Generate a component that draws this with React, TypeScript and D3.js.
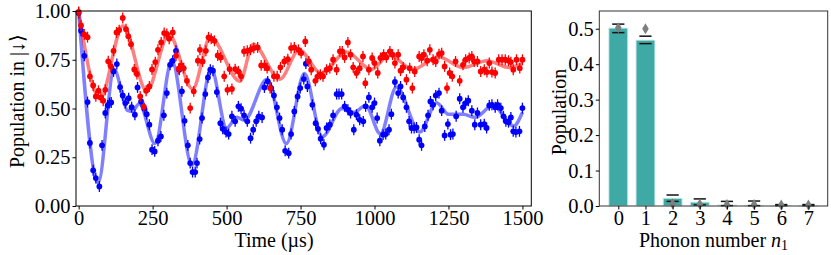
import React, { useRef, useEffect } from 'react';
import * as d3 from 'd3';

// measured populations, red = one initial state, blue = the other
const redTime = [0, 8, 19, 30, 38, 49, 58, 67, 75, 83, 90, 100, 109, 118, 128, 137, 149, 160, 168, 177, 188, 197, 208, 220, 228, 239, 248,
  259, 268, 279, 289, 298, 306, 318, 329, 338, 347, 355, 366, 377, 389, 403, 410, 419, 430, 439, 448, 459, 470, 480, 492, 503,
  510, 518, 529, 540, 549, 559, 570, 581, 592, 605, 617, 628, 637, 647, 660, 671, 682, 695, 707, 718, 729, 743, 752, 766,
  778, 786, 800, 808, 817, 826, 838, 849, 860, 872, 883, 891, 899, 910, 919, 928, 939, 950, 961, 969, 981, 992, 1000, 1011, 1020,
  1031, 1040, 1052, 1061, 1069, 1080, 1088, 1097, 1108, 1119, 1128, 1136, 1151, 1159, 1167, 1178, 1187, 1198, 1207, 1218, 1227, 1237, 1245, 1254, 1263, 1274,
  1288, 1299, 1308, 1320, 1329, 1337, 1348, 1359, 1371, 1380, 1388, 1397, 1408, 1420, 1431, 1442, 1453, 1461, 1469, 1480, 1491, 1500];
const redPop = [0.995, 0.926, 0.88, 0.866, 0.665, 0.618, 0.562, 0.591, 0.557, 0.54, 0.596, 0.742, 0.716, 0.796, 0.89, 0.902, 0.964, 0.907, 0.87, 0.83, 0.70, 0.677, 0.562, 0.509, 0.591, 0.613, 0.70,
  0.738, 0.801, 0.839, 0.887, 0.882, 0.858, 0.89, 0.77, 0.704, 0.721, 0.707, 0.642, 0.502, 0.588, 0.745, 0.801, 0.741, 0.796, 0.865, 0.858, 0.847, 0.772, 0.762, 0.665, 0.596,
  0.702, 0.60, 0.702, 0.69, 0.665, 0.793, 0.796, 0.801, 0.81, 0.813, 0.721, 0.721, 0.707, 0.605, 0.665, 0.665, 0.711, 0.741, 0.753, 0.81, 0.813, 0.801, 0.784, 0.844,
  0.741, 0.699, 0.642, 0.665, 0.673, 0.665, 0.699, 0.707, 0.75, 0.699, 0.793, 0.793, 0.762, 0.839, 0.776, 0.711, 0.682, 0.707, 0.767, 0.63, 0.699, 0.759, 0.733, 0.682, 0.759,
  0.776, 0.762, 0.793, 0.776, 0.733, 0.776, 0.694, 0.711, 0.648, 0.707, 0.605, 0.69, 0.767, 0.759, 0.776, 0.745, 0.801, 0.75, 0.741, 0.779, 0.784, 0.716, 0.605, 0.682, 0.665, 0.741,
  0.642, 0.724, 0.75, 0.759, 0.767, 0.741, 0.741, 0.69, 0.699, 0.687, 0.733, 0.687, 0.682, 0.75, 0.75, 0.75, 0.745, 0.738, 0.699, 0.75, 0.707, 0.75];

const blueTime = [0, 8, 19, 30, 38, 49, 58, 70, 79, 90, 98, 104, 110, 118, 129, 140, 149, 158, 169, 179, 190, 199, 211, 222, 230, 239, 248,
  257, 268, 278, 288, 298, 309, 318, 329, 340, 349, 358, 369, 377, 385, 394, 400, 409, 417, 428, 437, 445, 454, 467, 479, 487, 498, 507,
  518, 529, 540, 549, 559, 570, 581, 590, 600, 609, 620, 628, 639, 651, 660, 670, 679, 688, 698, 710, 718, 729, 740, 749, 761, 768,
  773, 790, 801, 809, 818, 829, 838, 849, 860, 872, 880, 889, 899, 910, 919, 930, 939, 950, 962, 970, 981, 992, 1000, 1009, 1018,
  1029, 1038, 1049, 1057, 1069, 1080, 1088, 1097, 1108, 1117, 1125, 1134, 1142, 1151, 1159, 1170, 1181, 1189, 1198, 1207, 1218, 1227, 1237, 1248, 1257, 1265, 1276,
  1288, 1299, 1308, 1317, 1329, 1339, 1348, 1359, 1371, 1379, 1388, 1397, 1408, 1416, 1427, 1436, 1444, 1453, 1461, 1469, 1478, 1490, 1500];
const bluePop = [0.99, 0.899, 0.77, 0.533, 0.323, 0.183, 0.143, 0.10, 0.311, 0.477, 0.516, 0.528, 0.531, 0.69, 0.728, 0.61, 0.567, 0.528, 0.553, 0.507, 0.468, 0.608, 0.536, 0.499, 0.471, 0.417, 0.289,
  0.28, 0.335, 0.357, 0.465, 0.579, 0.724, 0.745, 0.796, 0.699, 0.588, 0.437, 0.311, 0.22, 0.174, 0.174, 0.22, 0.343, 0.451, 0.574, 0.659, 0.699, 0.694, 0.584, 0.425, 0.396, 0.379, 0.369,
  0.46, 0.434, 0.511, 0.499, 0.465, 0.434, 0.348, 0.391, 0.434, 0.46, 0.454, 0.608, 0.639, 0.605, 0.567, 0.506, 0.451, 0.391, 0.283, 0.271, 0.369, 0.485, 0.562, 0.605, 0.651, 0.73,
  0.613, 0.519, 0.425, 0.396, 0.345, 0.314, 0.40, 0.417, 0.465, 0.574, 0.574, 0.574, 0.511, 0.494, 0.477, 0.391, 0.468, 0.442, 0.434, 0.511, 0.557, 0.506, 0.528, 0.451, 0.335,
  0.366, 0.369, 0.391, 0.471, 0.636, 0.579, 0.613, 0.557, 0.506, 0.434, 0.40, 0.40, 0.403, 0.34, 0.311, 0.408, 0.465, 0.536, 0.519, 0.567, 0.579, 0.489, 0.362, 0.42, 0.366, 0.369, 0.46,
  0.55, 0.506, 0.528, 0.54, 0.489, 0.417, 0.477, 0.417, 0.42, 0.40, 0.516, 0.519, 0.506, 0.519, 0.502, 0.46, 0.434, 0.43, 0.454, 0.383, 0.379, 0.383, 0.502];
const popErr = 0.028;

// fitted curves (read at their turning points)
const redFitTime = [0, 72, 150, 230, 305, 385, 445, 545, 590, 680, 745, 820, 905, 990, 1050, 1130, 1215, 1300, 1380, 1455, 1500];
const redFitPop = [1.0, 0.55, 0.925, 0.59, 0.88, 0.60, 0.865, 0.64, 0.83, 0.65, 0.80, 0.68, 0.79, 0.70, 0.775, 0.70, 0.765, 0.71, 0.745, 0.71, 0.73];
const blueFitTime = [0, 66, 120, 165, 180, 205, 258, 315, 383, 448, 500, 535, 560, 637, 702, 763, 823, 890, 930, 970, 1020, 1074, 1153, 1210, 1250, 1300, 1340, 1400, 1470, 1500];
const blueFitPop = [1.0, 0.12, 0.70, 0.49, 0.485, 0.525, 0.32, 0.745, 0.21, 0.705, 0.40, 0.455, 0.44, 0.65, 0.32, 0.68, 0.355, 0.50, 0.48, 0.515, 0.37, 0.61, 0.38, 0.53, 0.47, 0.47, 0.455, 0.515, 0.41, 0.48];

// phonon distribution
const phonon = [0, 1, 2, 3, 4, 5, 6, 7];
const phononPop = [0.502, 0.468, 0.022, 0.011, 0.003, 0.002, 0.001, 0.001];
const phononHi = [0.513, 0.479, 0.031, 0.020, 0.013, 0.014, 0.004, 0.004];
const phononLo = [0.489, 0.458, 0.013, 0.003, 0.001, 0.001, 0.001, 0.001];
const phononRef = [0.503, 0.50, 0.006, 0.005, 0.004, 0.004, 0.003, 0.003];

const FONT = '"Liberation Serif", "Times New Roman", serif';
const FS = 20.5;
const LFS = 20;

const App = () => {
  const svgRef = useRef(null);

  useEffect(() => {
    const svg = d3.select(svgRef.current);
    svg.selectAll('*').remove();

    // ---------- left panel ----------
    const x = d3.scaleLinear().domain([-9, 1530]).range([76, 531.3]);
    const y = d3.scaleLinear().domain([0, 1]).range([206, 11]);

    const line = d3.line<[number, number]>()
      .x(d => x(d[0]))
      .y(d => y(d[1]))
      .curve(d3.curveMonotoneX);

    const left = svg.append('g');

    left.append('path')
      .datum(blueFitTime.map((t, i) => [t, blueFitPop[i]] as [number, number]))
      .attr('d', line)
      .attr('fill', 'none')
      .attr('stroke', '#0000ff')
      .attr('stroke-opacity', 0.5)
      .attr('stroke-width', 3.5);

    left.append('path')
      .datum(redFitTime.map((t, i) => [t, redFitPop[i]] as [number, number]))
      .attr('d', line)
      .attr('fill', 'none')
      .attr('stroke', '#ff0000')
      .attr('stroke-opacity', 0.5)
      .attr('stroke-width', 3.5);

    const drawPoints = (times, pops, color) => {
      const g = left.append('g');
      const pts = times.map((t, i) => ({ t, v: pops[i] }));
      g.selectAll('line')
        .data(pts)
        .enter().append('line')
        .attr('x1', d => x(d.t))
        .attr('x2', d => x(d.t))
        .attr('y1', d => y(d.v - popErr))
        .attr('y2', d => y(d.v + popErr))
        .attr('stroke', color)
        .attr('stroke-width', 1.3);
      g.selectAll('circle')
        .data(pts)
        .enter().append('circle')
        .attr('cx', d => x(d.t))
        .attr('cy', d => y(d.v))
        .attr('r', 2.9)
        .attr('fill', color);
    };
    drawPoints(blueTime, bluePop, '#0000ff');
    drawPoints(redTime, redPop, '#ff0000');

    left.append('rect')
      .attr('x', 76).attr('y', 11)
      .attr('width', 531.3 - 76).attr('height', 195)
      .attr('fill', 'none').attr('stroke', '#000').attr('stroke-width', 1);

    const styleAxis = (g) => {
      g.select('.domain').remove();
      g.selectAll('text').attr('font-family', FONT).attr('font-size', FS).attr('fill', '#000');
      g.selectAll('line').attr('stroke', '#000');
    };

    left.append('g')
      .attr('transform', 'translate(76,0)')
      .call(d3.axisLeft(y).tickValues([0, 0.25, 0.5, 0.75, 1]).tickFormat(d3.format('.2f')).tickSize(3.5).tickPadding(2))
      .call(styleAxis);

    left.append('g')
      .attr('transform', 'translate(0,206)')
      .call(d3.axisBottom(x).tickValues([0, 250, 500, 750, 1000, 1250, 1500]).tickFormat(d3.format('d')).tickSize(3.5).tickPadding(1))
      .call(styleAxis);

    left.append('text')
      .attr('x', 274)
      .attr('y', 247)
      .attr('text-anchor', 'middle')
      .attr('font-family', FONT)
      .attr('font-size', LFS)
      .text('Time (µs)');

    left.append('text')
      .attr('transform', 'translate(24,101) rotate(-90)')
      .attr('text-anchor', 'middle')
      .attr('font-family', FONT)
      .attr('font-size', LFS)
      .text('Population in |↓⟩');

    // ---------- right panel ----------
    const xb = d3.scaleLinear().domain([-0.7, 7.71]).range([599.3, 827.7]);
    const yb = d3.scaleLinear().domain([0, 0.55]).range([206, 11]);
    const bw = 0.7;
    const cw = 0.45;

    const right = svg.append('g');
    right.selectAll('rect.bar')
      .data(phonon)
      .enter().append('rect')
      .attr('class', 'bar')
      .attr('x', d => xb(d - bw / 2))
      .attr('width', xb(bw) - xb(0))
      .attr('y', (d, i) => yb(phononPop[i]))
      .attr('height', (d, i) => yb(0) - yb(phononPop[i]))
      .attr('fill', '#3fa9a5')
      .attr('stroke', '#d8f0ee')
      .attr('stroke-width', 1);

    const caps = phonon.flatMap((n, i) => [{ n, v: phononHi[i] }, { n, v: phononLo[i] }]);
    right.selectAll('line.cap')
      .data(caps)
      .enter().append('line')
      .attr('class', 'cap')
      .attr('x1', d => xb(d.n - cw / 2))
      .attr('x2', d => xb(d.n + cw / 2))
      .attr('y1', d => yb(d.v))
      .attr('y2', d => yb(d.v))
      .attr('stroke', '#111')
      .attr('stroke-width', 1.5);

    right.selectAll('path.ref')
      .data(phonon)
      .enter().append('path')
      .attr('class', 'ref')
      .attr('transform', (d, i) => `translate(${xb(d)},${yb(phononRef[i])})`)
      .attr('d', 'M0,-5.5L3.3,0L0,5.5L-3.3,0Z')
      .attr('fill', '#7f7f7f');

    right.append('rect')
      .attr('x', 599.3).attr('y', 11)
      .attr('width', 827.7 - 599.3).attr('height', 195)
      .attr('fill', 'none').attr('stroke', '#333').attr('stroke-width', 1);

    right.append('g')
      .attr('transform', 'translate(599.3,0)')
      .call(d3.axisLeft(yb).tickValues([0, 0.1, 0.2, 0.3, 0.4, 0.5]).tickFormat(d3.format('.1f')).tickSize(3.5).tickPadding(2))
      .call(styleAxis);

    right.append('g')
      .attr('transform', 'translate(0,206)')
      .call(d3.axisBottom(xb).tickValues(phonon).tickFormat(d3.format('d')).tickSize(3.5).tickPadding(1))
      .call(styleAxis);

    const xl = right.append('text')
      .attr('x', (599.3 + 827.7) / 2)
      .attr('y', 247)
      .attr('text-anchor', 'middle')
      .attr('font-family', FONT)
      .attr('font-size', LFS);
    xl.append('tspan').text('Phonon number ');
    xl.append('tspan').attr('font-style', 'italic').text('n');
    xl.append('tspan').attr('font-size', 14).attr('dy', 3).text('1');

    right.append('text')
      .attr('transform', 'translate(566,112) rotate(-90)')
      .attr('text-anchor', 'middle')
      .attr('font-family', FONT)
      .attr('font-size', LFS)
      .text('Population');
  }, []);

  return (
    <svg ref={svgRef} width={831} height={255}
      style={{ position: 'absolute', left: 0, top: 0, background: '#fff' }} />
  );
};

export default App;
